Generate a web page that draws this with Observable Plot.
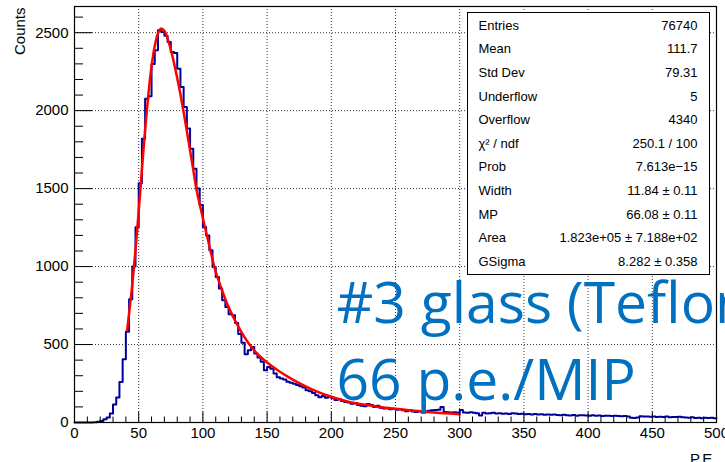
<!DOCTYPE html>
<html>
<head>
<meta charset="utf-8">
<script src="https://cdn.jsdelivr.net/npm/d3@7"></script>
<script src="https://cdn.jsdelivr.net/npm/@observablehq/plot@0.6"></script>
<style>
  html, body { margin: 0; padding: 0; background: #fff; overflow: hidden; }
</style>
</head>
<body>
<div id="chart"></div>
<script>
// Histogram of photo-electrons per event: 200 bins of 2.5 P.E. from 0 to 500
const binLow = 0;
const binWidth = 2.5;
const counts = [
  0, 0, 0, 0, 0, 0, 2, 5, 10, 21,
  32, 58, 115, 160, 260, 405, 582, 790, 1000, 1252,
  1535, 1820, 2077, 2092, 2300, 2387, 2515, 2505, 2480, 2440,
  2376, 2370, 2269, 2151, 2023, 1885, 1756, 1628, 1500, 1395,
  1254, 1200, 1105, 997, 933, 860, 784, 741, 695, 688,
  638, 568, 512, 438, 463, 485, 442, 417, 389, 335,
  356, 345, 314, 290, 282, 275, 262, 255, 248, 240,
  232, 225, 207, 200, 190, 175, 162, 170, 158, 165,
  155, 145, 150, 138, 132, 128, 120, 125, 112, 108,
  105, 118, 112, 100, 108, 95, 90, 92, 85, 88,
  82, 85, 78, 72, 80, 70, 68, 72, 66, 70,
  75, 78, 80, 82, 100, 68, 66, 64, 65, 62,
  80, 64, 62, 65, 63, 60, 45, 62, 58, 60,
  62, 58, 60, 56, 58, 55, 60, 57, 54, 56,
  53, 55, 52, 54, 51, 53, 50, 52, 49, 51,
  48, 47, 50, 46, 45, 48, 44, 47, 46, 45,
  44, 46, 43, 45, 42, 44, 43, 41, 44, 42,
  40, 42, 38, 30, 29, 32, 40, 38, 39, 37,
  38, 36, 37, 35, 38, 34, 36, 35, 37, 33,
  32, 30, 33, 29, 31, 28, 30, 29, 31, 28
];

// Landau (x) Gauss fit, sampled over the fit range 40-300
const fitX = [41, 42.5, 45, 47.5, 50, 52.5, 55, 57.5, 60, 62.5, 65, 67.5, 70, 72.5, 75, 77.5,
  80, 82.5, 85, 87.5, 90, 92.5, 95, 97.5, 100, 102.5, 105, 107.5, 110, 112.5, 115, 117.5,
  120, 125, 130, 135, 140, 145, 150, 160, 170, 180, 190, 200, 212.5, 225, 237.5, 250,
  262.5, 275, 287.5, 300];
const fitY = [590, 700, 885, 1105, 1355, 1620, 1880, 2100, 2285, 2415, 2495, 2527, 2512, 2462, 2392, 2305,
  2210, 2105, 1990, 1870, 1745, 1620, 1495, 1400, 1310, 1220, 1135, 1045, 965, 905, 845, 790,
  740, 655, 580, 515, 462, 420, 385, 325, 275, 232, 195, 165, 135, 115, 100, 88,
  77, 68, 60, 53];

// Axis ticks
const xTicks = [0, 50, 100, 150, 200, 250, 300, 350, 400, 450, 500];
const yTicks = [0, 500, 1000, 1500, 2000, 2500];
const xMinor = d3.range(0, 501, 10).filter(v => v % 50 !== 0);
const yMinor = d3.range(0, 2601, 100).filter(v => v % 500 !== 0);

// Statistics / fit-parameter box
const statsLabels = ["Entries", "Mean", "Std Dev", "Underflow", "Overflow", "\u03C7\u00B2 / ndf",
  "Prob", "Width", "MP", "Area", "GSigma"];
const statsValues = ["76740", "111.7", "79.31", "5", "4340", "250.1 / 100",
  "7.613e\u221215", "11.84 \u00B1 0.11", "66.08 \u00B1 0.11", "1.823e+05 \u00B1 7.188e+02", "8.282 \u00B1 0.358"];

const noteLines = ["#3 glass (Teflon", "66 p.e./MIP"];

const hist = counts.map((c, i) => ({x: binLow + i * binWidth, y: c}));
hist.push({x: binLow + counts.length * binWidth, y: counts[counts.length - 1]});
const fit = fitX.map((x, i) => ({x, y: fitY[i]}));

const W = 725, H = 462;
const mL = 74, mR = 9, mT = 6, mB = 40;
const frameW = W - mL - mR, frameH = H - mT - mB;
const font = "'Liberation Sans', Arial, Helvetica, sans-serif";
const blue = "#0070C0";

const chart = Plot.plot({
  width: W,
  height: H,
  marginLeft: mL,
  marginRight: mR,
  marginTop: mT,
  marginBottom: mB,
  style: {fontFamily: font, fontSize: "15px", background: "#fff", overflow: "visible"},
  x: {domain: [0, 500], axis: null},
  y: {domain: [0, 2668], axis: null},
  marks: [
    // dotted grid at major ticks
    Plot.ruleX(xTicks.slice(1, -1), {x: d => d, stroke: "#333", strokeWidth: 1, strokeDasharray: "1,2"}),
    Plot.ruleY(yTicks.slice(1), {y: d => d, stroke: "#333", strokeWidth: 1, strokeDasharray: "1,2"}),
    // histogram outline
    Plot.line(hist, {x: "x", y: "y", curve: "step-after", stroke: "#000099", strokeWidth: 2}),
    // fit
    Plot.line(fit, {x: "x", y: "y", curve: "catmull-rom", stroke: "#ff0000", strokeWidth: 2.5}),
    // inward ticks
    Plot.ruleX(xTicks, {x: d => d, insetTop: frameH - 10.5, stroke: "#000"}),
    Plot.ruleX(xMinor, {x: d => d, insetTop: frameH - 5.5, stroke: "#000"}),
    Plot.ruleY(yTicks, {y: d => d, insetRight: frameW - 18, stroke: "#000"}),
    Plot.ruleY(yMinor, {y: d => d, insetRight: frameW - 9, stroke: "#000"}),
    Plot.frame({stroke: "#000", strokeWidth: 1.2}),
    // tick labels
    Plot.text(xTicks, {x: d => d, frameAnchor: "bottom", lineAnchor: "top", dy: 5, text: d => String(d),
      fill: "#000", fontSize: 15}),
    Plot.text(yTicks, {y: d => d, frameAnchor: "left", textAnchor: "end", dx: -6, text: d => String(d),
      fill: "#000", fontSize: 15}),
    // axis titles
    Plot.text(["Counts"], {frameAnchor: "top-left", text: d => d, rotate: -90, textAnchor: "end",
      lineAnchor: "middle", dx: -54, dy: 1, fill: "#000", fontSize: 15}),
    Plot.text(["P.E."], {frameAnchor: "bottom-right", text: d => d, textAnchor: "end",
      lineAnchor: "bottom", dy: 41, fill: "#000", fontSize: 15}),
    // statistics box
    Plot.frame({insetLeft: 467 - mL, insetRight: mL + frameW - 709, insetTop: 12 - mT,
      insetBottom: mT + frameH - 274, fill: "#fff", stroke: "#000", strokeWidth: 1}),
    Plot.text([statsLabels.join("\n")], {frameAnchor: "top-left", text: d => d, textAnchor: "start",
      lineAnchor: "top", lineHeight: 23.6 / 13, dx: 478 - mL, dy: 6.5, fontSize: 13, fill: "#000"}),
    Plot.text([statsValues.join("\n")], {frameAnchor: "top-left", text: d => d, textAnchor: "end",
      lineAnchor: "top", lineHeight: 23.6 / 13, dx: 697 - mL, dy: 6.5, fontSize: 13, fill: "#000"}),
    // annotation
    Plot.text([noteLines[0]], {frameAnchor: "top-left", text: d => d, textAnchor: "start", lineAnchor: "bottom",
      dx: 336 - mL, dy: 322 - mT, fontSize: 57, fontFamily: "'Open Sans', sans-serif", fill: blue}),
    Plot.text([noteLines[1]], {frameAnchor: "top-left", text: d => d, textAnchor: "start", lineAnchor: "bottom",
      dx: 336 - mL, dy: 399 - mT, fontSize: 57, fontFamily: "'Open Sans', sans-serif", fill: blue})
  ]
});

document.getElementById("chart").appendChild(chart);
</script>
</body>
</html>
